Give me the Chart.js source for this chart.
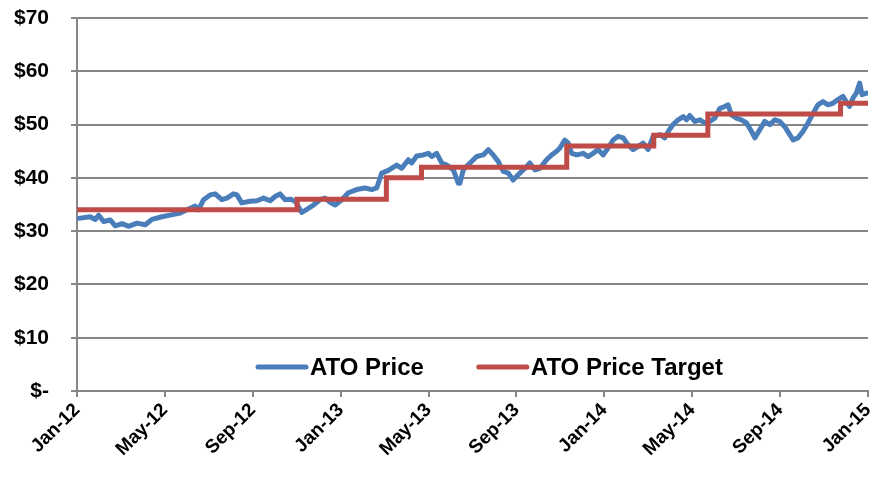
<!DOCTYPE html>
<html>
<head>
<meta charset="utf-8">
<script src="https://cdn.jsdelivr.net/npm/chart.js@4/dist/chart.umd.min.js"></script>
<style>
  html, body { margin: 0; padding: 0; background: #ffffff; }
  #wrap { width: 871px; height: 480px; position: relative; }
</style>
</head>
<body>
<div id="wrap"><canvas id="c" width="871" height="480"></canvas></div>
<script>
// Month offsets since Jan-2012 (x) and values
const tickLabels = ['Jan-12','May-12','Sep-12','Jan-13','May-13','Sep-13','Jan-14','May-14','Sep-14','Jan-15'];

const priceMonths = [0.07,0.60,0.83,0.98,1.21,1.51,1.74,2.05,2.35,2.73,3.11,3.41,3.87,4.24,4.70,5.00,5.38,5.53,5.76,6.06,
  6.29,6.59,6.82,7.12,7.28,7.50,7.88,8.19,8.49,8.79,9.02,9.24,9.47,9.70,9.93,10.23,10.46,10.76,11.06,11.29,
  11.52,11.75,12.05,12.35,12.73,13.11,13.42,13.64,13.87,14.17,14.55,14.78,15.08,15.23,15.46,15.76,15.99,16.14,16.37,16.60,
  16.83,17.13,17.35,17.43,17.58,17.89,18.19,18.49,18.72,18.94,19.17,19.40,19.63,19.85,20.08,20.39,20.61,20.84,21.07,21.37,
  21.60,21.83,21.98,22.20,22.36,22.51,22.74,23.04,23.26,23.49,23.72,23.95,24.17,24.40,24.63,24.86,25.08,25.31,25.54,25.77,
  25.99,26.22,26.53,26.75,26.95,27.13,27.36,27.59,27.74,27.89,28.12,28.35,28.57,28.80,29.03,29.25,29.48,29.63,29.79,30.01,
  30.24,30.47,30.70,30.85,31.07,31.30,31.53,31.76,31.98,32.21,32.44,32.59,32.81,33.04,33.27,33.50,33.72,33.95,34.18,34.41,
  34.63,34.86,35.01,35.16,35.32,35.47,35.62,35.73,35.93];
const priceValues = [32.4,32.7,32.2,33.0,31.8,32.1,31.0,31.4,30.9,31.5,31.2,32.2,32.7,33.0,33.4,34.0,34.7,34.0,35.9,36.8,
  37.0,35.9,36.2,37.0,36.8,35.3,35.6,35.7,36.2,35.7,36.5,37.0,35.9,36.0,35.6,33.5,34.1,34.9,35.9,36.2,
  35.4,34.9,35.9,37.2,37.8,38.1,37.8,38.1,40.9,41.4,42.4,41.8,43.4,42.8,44.1,44.3,44.6,44.0,44.6,42.8,
  42.4,41.5,39.0,39.0,41.5,42.8,44.0,44.3,45.3,44.3,43.1,41.2,40.9,39.6,40.6,41.8,42.8,41.5,41.8,43.4,
  44.3,45.0,45.6,47.1,46.5,44.6,44.3,44.6,44.0,44.6,45.3,44.3,45.6,47.1,47.8,47.5,46.2,45.3,45.9,46.5,
  45.3,47.8,48.1,47.5,49.0,50.0,50.9,51.5,50.9,51.7,50.6,50.9,50.3,50.6,51.2,53.0,53.4,53.7,51.8,51.2,
  50.9,50.3,48.7,47.5,49.0,50.6,50.0,50.9,50.6,49.6,48.1,47.1,47.5,48.7,50.3,52.1,53.7,54.3,53.7,54.0,
  54.7,55.3,54.3,53.4,55.0,55.9,57.8,55.6,55.9];

const targetMonths = [0, 10.02, 14.08, 15.68, 22.29, 26.25, 28.71, 34.75, 36];
const targetValues = [34, 36, 40, 42, 46, 48, 52, 54, 54];

const seriesNames = ['ATO Price', 'ATO Price Target'];
const seriesColors = ['#4A7EBB', '#BE4B48'];

const toXY = (xs, ys) => xs.map((x, i) => ({ x: x, y: ys[i] }));

const FONT = '"Liberation Sans", Arial, sans-serif';

const legendInside = {
  id: 'legendInside',
  afterDraw(chart) {
    const ctx = chart.ctx;
    const a = chart.chartArea;
    ctx.save();
    ctx.font = 'bold 24px ' + FONT;
    ctx.textBaseline = 'middle';
    ctx.textAlign = 'left';
    let x = a.left + 181;
    const y = 367;
    chart.data.datasets.forEach((ds, i) => {
      ctx.strokeStyle = ds.borderColor;
      ctx.lineWidth = 5;
      ctx.lineCap = 'round';
      ctx.beginPath();
      ctx.moveTo(x, y);
      ctx.lineTo(x + 48, y);
      ctx.stroke();
      ctx.fillStyle = '#000';
      ctx.fillText(ds.label, x + 52, y + 1);
      x += 52 + ctx.measureText(ds.label).width + 55;
    });
    ctx.restore();
  }
};

new Chart(document.getElementById('c'), {
  type: 'line',
  data: {
    datasets: [
      {
        label: seriesNames[0],
        data: toXY(priceMonths, priceValues),
        borderColor: seriesColors[0],
        backgroundColor: seriesColors[0],
        borderWidth: 5,
        pointRadius: 0,
        tension: 0,
        borderJoinStyle: 'round',
        borderCapStyle: 'round',
        order: 2
      },
      {
        label: seriesNames[1],
        data: toXY(targetMonths, targetValues),
        borderColor: seriesColors[1],
        backgroundColor: seriesColors[1],
        borderWidth: 5,
        pointRadius: 0,
        stepped: 'before',
        borderCapStyle: 'butt',
        order: 1
      }
    ]
  },
  options: {
    responsive: false,
    animation: false,
    layout: { padding: { top: 18, right: 3, left: 0, bottom: 0 } },
    plugins: {
      legend: { display: false },
      tooltip: { enabled: false }
    },
    scales: {
      x: {
        type: 'linear',
        min: 0,
        max: 36,
        afterFit: s => { s.height = 89; s.paddingLeft = 0; s.paddingRight = 0; },
        afterBuildTicks: s => { s.ticks = tickLabels.map((_, i) => ({ value: i * 4 })); },
        ticks: {
          stepSize: 4,
          autoSkip: false,
          maxRotation: 45,
          minRotation: 45,
          color: '#000',
          padding: 2,
          font: { family: FONT, weight: 'bold', size: 19 },
          callback: v => tickLabels[Math.round(v / 4)]
        },
        grid: {
          display: true,
          drawOnChartArea: false,
          drawTicks: true,
          tickLength: 6,
          color: '#868686',
          lineWidth: 2
        },
        border: { display: true, color: '#868686', width: 2 }
      },
      y: {
        min: 0,
        max: 70,
        afterFit: s => { s.width = 77; s.paddingTop = 0; s.paddingBottom = 0; },
        ticks: {
          stepSize: 10,
          color: '#000',
          padding: 22,
          font: { family: FONT, weight: 'bold', size: 21 },
          callback: v => v === 0 ? '$-' : '$' + v
        },
        grid: {
          color: '#868686',
          lineWidth: 2,
          tickLength: 6
        },
        border: { display: true, color: '#868686', width: 2 }
      }
    }
  },
  plugins: [legendInside]
});
</script>
</body>
</html>
